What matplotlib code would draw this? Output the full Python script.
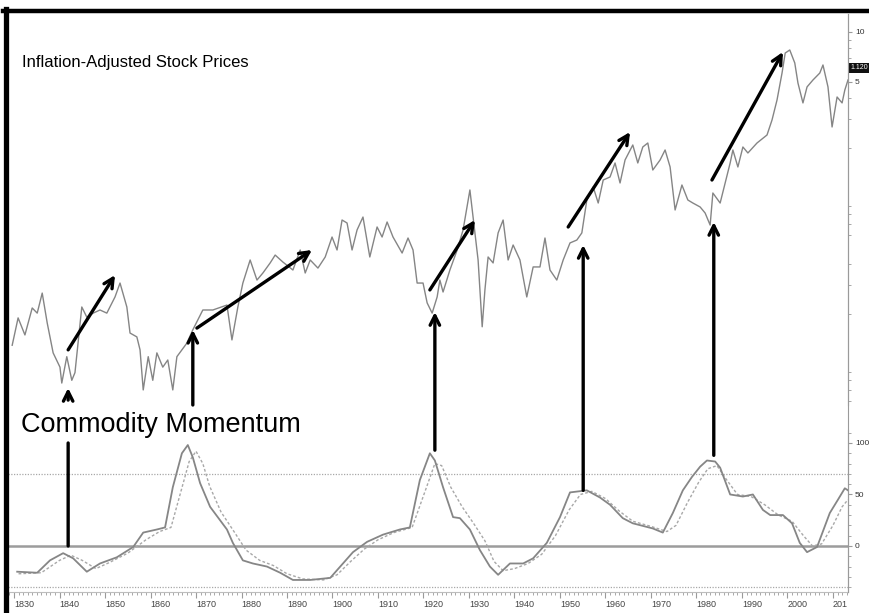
import matplotlib
matplotlib.use('Agg')
import matplotlib.pyplot as plt
from matplotlib import font_manager
from matplotlib.lines import Line2D
from matplotlib.ticker import MultipleLocator, NullFormatter, LogLocator
from matplotlib.transforms import blended_transform_factory

# ---------------- data ----------------
price_years = [1829.6, 1830.9, 1832.4, 1834.0, 1835.1, 1836.2, 1837.3, 1838.6, 1840.1, 1840.5,
               1841.6, 1842.7, 1843.4, 1844.9, 1846.0, 1847.4, 1848.9, 1850.4, 1852.2, 1853.3,
               1854.8, 1855.5, 1857.0, 1857.7, 1858.4, 1859.5, 1860.5, 1861.4, 1862.7, 1863.8,
               1864.9, 1865.8, 1868.0, 1869.3, 1871.5, 1873.7, 1876.8, 1877.9, 1879.2, 1880.3,
               1881.9, 1883.4, 1884.7, 1886.3, 1887.4, 1889.1, 1891.3, 1892.9, 1894.0, 1895.1,
               1896.8, 1898.4, 1899.9, 1901.0, 1902.1, 1903.2, 1904.3, 1905.4, 1906.7, 1908.2,
               1909.8, 1910.9, 1912.0, 1913.3, 1915.3, 1916.6, 1917.7, 1918.6, 1919.9, 1920.8,
               1921.9, 1923.0, 1923.6, 1924.3, 1925.8, 1927.4, 1928.7, 1930.2, 1931.3, 1932.0,
               1932.9, 1933.5, 1934.2, 1935.3, 1936.4, 1937.5, 1938.6, 1939.7, 1941.2, 1942.7,
               1944.1, 1945.6, 1946.7, 1947.8, 1949.3, 1950.7, 1952.2, 1953.7, 1954.8, 1955.9,
               1957.3, 1958.4, 1959.5, 1961.0, 1962.1, 1963.2, 1964.3, 1966.0, 1967.1, 1968.2,
               1969.3, 1970.4, 1972.0, 1973.1, 1974.2, 1975.3, 1976.8, 1978.1, 1979.2, 1980.8,
               1981.9, 1983.0, 1983.6, 1985.2, 1986.3, 1987.4, 1988.0, 1989.1, 1990.2, 1991.3,
               1993.3, 1995.5, 1996.6, 1997.7, 1998.8, 1999.5, 2000.5, 2001.6, 2002.3, 2003.4,
               2004.3, 2005.6, 2007.1, 2007.8, 2008.9, 2009.8, 2010.9, 2012.0, 2012.6, 2013.3]
price_values = [0.130, 0.190, 0.150, 0.218, 0.203, 0.268, 0.177, 0.117, 0.096, 0.077,
                0.111, 0.080, 0.089, 0.221, 0.192, 0.203, 0.212, 0.203, 0.254, 0.308,
                0.221, 0.154, 0.146, 0.122, 0.070, 0.111, 0.080, 0.117, 0.096, 0.106,
                0.070, 0.111, 0.134, 0.161, 0.212, 0.212, 0.227, 0.140, 0.221, 0.308,
                0.424, 0.321, 0.354, 0.407, 0.454, 0.412, 0.369, 0.487, 0.354, 0.424,
                0.379, 0.442, 0.583, 0.487, 0.738, 0.708, 0.487, 0.643, 0.769, 0.442,
                0.670, 0.583, 0.718, 0.583, 0.467, 0.575, 0.487, 0.308, 0.308, 0.234,
                0.203, 0.254, 0.321, 0.272, 0.369, 0.487, 0.643, 1.119, 0.617, 0.424,
                0.168, 0.280, 0.442, 0.407, 0.617, 0.738, 0.424, 0.522, 0.424, 0.254,
                0.385, 0.385, 0.575, 0.369, 0.321, 0.424, 0.537, 0.559, 0.617, 0.974,
                1.166, 0.934, 1.285, 1.340, 1.627, 1.233, 1.696, 2.088, 1.627, 2.031,
                2.146, 1.476, 1.696, 1.948, 1.539, 0.848, 1.199, 0.974, 0.934, 0.884,
                0.813, 0.688, 1.073, 0.934, 1.233, 1.627, 1.948, 1.539, 2.031, 1.869,
                2.146, 2.398, 2.952, 3.896, 5.66, 7.47, 7.79, 6.51, 4.93, 3.74,
                4.67, 5.14, 5.66, 6.33, 4.67, 2.68, 4.06, 3.74, 4.47, 5.14]

mom_years = [1830.7, 1835.1, 1837.9, 1840.8, 1843.0, 1846.0, 1848.9, 1852.6, 1856.2, 1858.4,
             1861.4, 1863.2, 1864.9, 1866.9, 1868.2, 1869.3, 1870.9, 1873.1, 1876.8, 1878.1,
             1880.3, 1882.5, 1885.6, 1888.5, 1891.3, 1895.1, 1899.5, 1902.3, 1904.5, 1907.6,
             1911.1, 1914.8, 1917.0, 1919.2, 1921.4, 1922.5, 1924.3, 1926.5, 1928.0, 1930.2,
             1932.4, 1934.6, 1936.4, 1939.0, 1941.9, 1944.1, 1947.1, 1950.0, 1952.2, 1955.9,
             1958.8, 1961.0, 1963.8, 1966.0, 1970.4, 1972.6, 1974.8, 1977.0, 1979.0, 1980.8,
             1982.3, 1984.1, 1985.2, 1987.4, 1990.2, 1992.4, 1994.6, 1996.2, 1999.0, 2001.0,
             2002.7, 2004.3, 2006.5, 2009.3, 2011.1, 2012.6, 2013.3]
mom_values = [-25, -26, -14, -7, -12, -25, -17, -11, -1, 13,
              16, 18, 57, 90, 98, 86, 61, 38, 16, 3,
              -14, -17, -20, -26, -33, -33, -31, -17, -6, 4,
              11, 16, 18, 64, 90, 83, 57, 28, 27, 16,
              -4, -20, -28, -17, -17, -12, 3, 28, 52, 54,
              47, 40, 27, 22, 17, 13, 32, 54, 67, 77,
              83, 82, 76, 50, 48, 50, 35, 30, 30, 22,
              3, -6, -1, 32, 45, 56, 54]

sig_years = [1831.0, 1836.0, 1840.0, 1842.5, 1845.0, 1848.0, 1851.0, 1855.0, 1859.0, 1862.0,
             1864.5, 1866.5, 1868.5, 1870.0, 1871.5, 1873.0, 1875.5, 1878.5, 1881.0, 1884.0,
             1887.0, 1890.0, 1893.5, 1898.0, 1901.0, 1904.0, 1907.0, 1910.0, 1913.5, 1917.5,
             1920.5, 1922.5, 1924.0, 1926.0, 1928.5, 1931.0, 1933.5, 1935.5, 1937.5, 1940.0,
             1943.0, 1946.0, 1949.0, 1952.0, 1954.5, 1957.0, 1960.0, 1963.0, 1966.0, 1970.0,
             1973.5, 1975.5, 1978.0, 1980.5, 1982.5, 1984.5, 1986.5, 1989.0, 1992.0, 1995.0,
             1998.0, 2001.0, 2003.5, 2005.5, 2007.5, 2010.0, 2012.0, 2013.3]
sig_values = [-27, -26, -14, -9, -14, -22, -16, -7, 6, 14,
              18, 50, 82, 92, 80, 58, 33, 13, -4, -14,
              -19, -27, -32, -33, -28, -15, -3, 6, 13, 18,
              55, 80, 78, 57, 38, 22, 5, -15, -24, -22,
              -17, -8, 10, 35, 50, 53, 46, 34, 24, 19,
              14, 20, 42, 62, 75, 78, 65, 50, 48, 40,
              30, 24, 10, 0, 2, 20, 38, 45]

decade_years = list(range(1830, 2011, 10))
decade_labels = [str(y) for y in range(1830, 2010, 10)] + ['201']
price_ticks = [5, 10]
price_tick_labels = ['5', '10']
mom_ticks = [0, 50, 100]
mom_tick_labels = ['0', '50', '100']
ref_levels = [70, -40]
last_value_label = '1.120'
last_value_pos = 6.07

# ---------------- fonts ----------------
names = {f.name for f in font_manager.fontManager.ttflist}
if 'Liberation Sans Narrow' in names:
    title_font, title_size, tick_font = 'Liberation Sans Narrow', 14.5, 'Liberation Sans Narrow'
else:
    title_font, title_size, tick_font = 'Liberation Sans', 12, 'Liberation Sans'
main_font = 'Liberation Sans'
plt.rcParams['font.family'] = main_font

# ---------------- figure ----------------
W, H = 869, 613
fig = plt.figure(figsize=(W / 100, H / 100), dpi=100)
fig.patch.set_facecolor('white')


def box(x0, y0, x1, y1):
    return [x0 / W, 1 - y1 / H, (x1 - x0) / W, (y1 - y0) / H]


ax_top = fig.add_axes(box(8, 14, 848, 405))
ax_bot = fig.add_axes(box(8, 430, 848, 592))
for ax in (ax_top, ax_bot):
    ax.set_facecolor('none')
    for s in ('left', 'top'):
        ax.spines[s].set_visible(False)
    ax.spines['right'].set_color('#9a9a9a')
    ax.spines['right'].set_linewidth(0.8)
    ax.set_xlim(1828.68, 2013.3)
    ax.yaxis.tick_right()
    ax.tick_params(axis='y', which='both', colors='#9a9a9a', labelcolor='#333333',
                   labelsize=6, direction='out')
    ax.tick_params(axis='y', which='major', length=3, pad=2)
    ax.tick_params(axis='y', which='minor', length=2)

# upper panel: log price
ax_top.spines['bottom'].set_visible(False)
ax_top.set_yscale('log')
ax_top.set_ylim(0.0568, 12.83)
ax_top.plot(price_years, price_values, color='#858585', lw=1.0)
ax_top.set_yticks(price_ticks)
ax_top.set_yticklabels(price_tick_labels)
ax_top.yaxis.set_minor_locator(LogLocator(base=10, subs=(2, 3, 4, 6, 7, 8, 9)))
ax_top.yaxis.set_minor_formatter(NullFormatter())
ax_top.tick_params(axis='x', which='both', bottom=False, labelbottom=False)

# lower panel: momentum
ax_bot.set_ylim(-44.7, 112.6)
ax_bot.axhline(0, color='#9c9c9c', lw=1.8, zorder=1)
for lvl in ref_levels:
    ax_bot.axhline(lvl, color='#a8a8a8', lw=0.9, ls=(0, (1, 1.2)), zorder=1)
ax_bot.plot(sig_years, sig_values, color='#a8a8a8', lw=1.0, ls=(0, (2, 1.5)), zorder=2)
ax_bot.plot(mom_years, mom_values, color='#868686', lw=1.3, zorder=3)
ax_bot.set_yticks(mom_ticks)
ax_bot.set_yticklabels(mom_tick_labels)
ax_bot.yaxis.set_minor_locator(MultipleLocator(10))

ax_bot.spines['bottom'].set_color('#bdbdbd')
ax_bot.spines['bottom'].set_linewidth(0.8)
ax_bot.set_xticks(decade_years)
ax_bot.set_xticklabels(decade_labels, family=tick_font)
ax_bot.xaxis.set_minor_locator(MultipleLocator(1))
ax_bot.tick_params(axis='x', which='both', colors='#9a9a9a', labelcolor='#444444',
                   labelsize=6.5, direction='out')
ax_bot.tick_params(axis='x', which='major', length=4, pad=1.5)
ax_bot.tick_params(axis='x', which='minor', length=2.5)
for lab in ax_bot.get_xticklabels():
    lab.set_horizontalalignment('left')

# last value box
tr = blended_transform_factory(ax_top.transAxes, ax_top.transData)
ax_top.text(1.003, last_value_pos, last_value_label, transform=tr, color='white', fontsize=5,
            ha='left', va='center', bbox=dict(fc='#111111', ec='none', pad=1.4))

# ---------------- annotations ----------------
arrow = dict(arrowstyle='->', lw=2.4, color='black', shrinkA=0, shrinkB=0, mutation_scale=17)
line = dict(arrowstyle='-', lw=2.4, color='black', shrinkA=0, shrinkB=0)

# diagonal rally arrows (price panel)
diag = [((1841.9, 0.122), (1852.2, 0.344)),
        ((1870.2, 0.165), (1895.5, 0.487)),
        ((1921.4, 0.280), (1931.3, 0.738)),
        ((1951.8, 0.670), (1965.4, 2.50)),
        ((1983.4, 1.285), (1999.0, 7.58))]
for start, end in diag:
    ax_top.annotate('', xy=end, xytext=start, xycoords='data', textcoords='data',
                    arrowprops=arrow, annotation_clip=False)

# vertical arrows from momentum peaks up to price
vert = [(1922.5, 93, 0.206), (1955.1, 54, 0.522), (1983.8, 88, 0.718)]
for yr, mv, pv in vert:
    ax_bot.annotate('', xy=(yr, pv), xycoords=ax_top.transData,
                    xytext=(yr, mv), textcoords=ax_bot.transData,
                    arrowprops=arrow, annotation_clip=False)

# 1840 signal: line in momentum panel + short arrow under price low
ax_bot.annotate('', xy=(1841.9, 100), xytext=(1841.9, 0), xycoords='data',
                textcoords='data', arrowprops=line, annotation_clip=False)
ax_top.annotate('', xy=(1841.9, 0.0719), xytext=(1841.9, 0.0608), xycoords='data',
                textcoords='data', arrowprops=arrow, annotation_clip=False)
# 1869 arrow
ax_top.annotate('', xy=(1869.3, 0.161), xytext=(1869.3, 0.0568), xycoords='data',
                textcoords='data', arrowprops=arrow, annotation_clip=False)

# ---------------- texts ----------------
fig.text(22 / W, 1 - 62 / H, 'Inflation-Adjusted Stock Prices', family=title_font,
         fontsize=title_size, ha='left', va='center', color='black')
fig.text(21 / W, 1 - 425 / H, 'Commodity Momentum', family=main_font,
         fontsize=19.5, ha='left', va='center', color='black')

# frame borders
fig.add_artist(Line2D([3 / W, 1], [1 - 11 / H] * 2, lw=3.2, color='black',
                      transform=fig.transFigure))
fig.add_artist(Line2D([5.5 / W] * 2, [0, 1 - 9 / H], lw=3.8, color='black',
                      transform=fig.transFigure))
# continuous right axis line between panels
fig.add_artist(Line2D([848 / W] * 2, [1 - 592 / H, 1 - 14 / H], lw=0.8, color='#9a9a9a',
                      transform=fig.transFigure))

fig.savefig('out.png', dpi=100, facecolor='white')
